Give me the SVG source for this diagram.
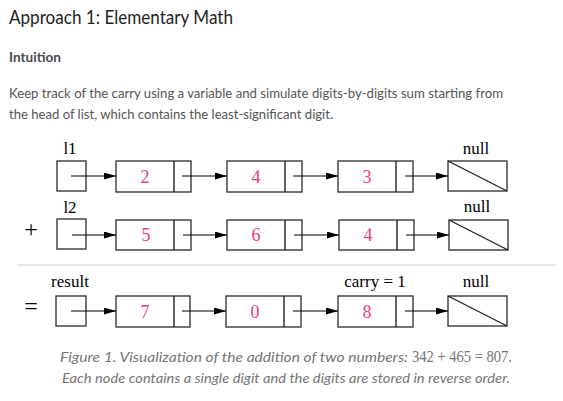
<svg xmlns="http://www.w3.org/2000/svg" width="563" height="401" viewBox="0 0 563 401">
<defs>
<style>
.bg{fill:#ffffff}
.title{font-family:Lato,"Open Sans","Liberation Sans",sans-serif;font-size:20px;fill:#1e1e1e}
.sub{font-family:Lato,"Open Sans","Liberation Sans",sans-serif;font-size:14px;font-weight:bold;fill:#4a4a4a}
.para{font-family:Lato,"Open Sans","Liberation Sans",sans-serif;font-size:14px;fill:#555555}
.cap{font-family:Lato,"Open Sans","Liberation Sans",sans-serif;font-size:13px;font-style:italic;fill:#757575}
.math{font-family:"Liberation Serif","DejaVu Serif",serif;font-size:16.5px;font-style:normal;fill:#757575}
.lbl{font-family:"Liberation Serif","DejaVu Serif",serif;font-size:17px;fill:#000000;text-anchor:middle}
.op{font-family:"Liberation Serif","DejaVu Serif",serif;font-size:24px;fill:#000000;text-anchor:middle}
.digit{font-family:"Liberation Serif","DejaVu Serif",serif;font-size:18px;fill:#ec407a;text-anchor:middle}
.box{fill:#ffffff;stroke:#3a3a3a;stroke-width:1.4}
.div{stroke:#222222;stroke-width:1.4}
.arrow{stroke:#000000;stroke-width:1.1;fill:none;marker-end:url(#ah)}
.sep{stroke:#d0d0d0;stroke-width:1.2}
</style>
<marker id="ah" markerWidth="12" markerHeight="7" refX="12" refY="3.5" orient="auto" markerUnits="userSpaceOnUse">
<path d="M0,0 L12,3.5 L0,7 Z" fill="#000000"/>
</marker>
</defs>
<rect class="bg" x="0" y="0" width="563" height="401"/>

<g id="header">
<text class="title" x="9" y="24" textLength="224" lengthAdjust="spacingAndGlyphs">Approach 1: Elementary Math</text>
<text class="sub" x="9" y="62" textLength="52" lengthAdjust="spacingAndGlyphs">Intuition</text>
<text class="para" x="9" y="98" textLength="494" lengthAdjust="spacingAndGlyphs">Keep track of the carry using a variable and simulate digits-by-digits sum starting from</text>
<text class="para" x="9" y="119" textLength="324" lengthAdjust="spacingAndGlyphs">the head of list, which contains the least-significant digit.</text>
</g>

<g id="labels">
<text class="lbl" x="70" y="154">l1</text>
<text class="lbl" x="476" y="154">null</text>
<text class="lbl" x="70" y="213">l2</text>
<text class="lbl" x="477" y="212">null</text>
<text class="lbl" x="70" y="287">result</text>
<text class="lbl" x="375" y="287">carry = 1</text>
<text class="lbl" x="476" y="287">null</text>
<text class="op" x="31" y="237">+</text>
<text class="op" x="31" y="314">=</text>
</g>

<line class="sep" x1="17" y1="265" x2="556" y2="265"/>

<g id="l1-head"><rect class="box" x="57" y="161" width="29" height="30"/></g>
<g id="l1-n2"><rect class="box" x="116" y="161" width="75" height="31"/><line class="div" x1="174" y1="161" x2="174" y2="192"/><text class="digit" x="145" y="183">2</text></g>
<g id="l1-n4"><rect class="box" x="227" y="161" width="75" height="31"/><line class="div" x1="285" y1="161" x2="285" y2="192"/><text class="digit" x="256" y="183">4</text></g>
<g id="l1-n3"><rect class="box" x="338" y="161" width="75" height="31"/><line class="div" x1="396" y1="161" x2="396" y2="192"/><text class="digit" x="367" y="183">3</text></g>
<g id="l1-null"><rect class="box" x="448" y="161" width="59" height="30"/><line class="div" x1="448" y1="161" x2="507" y2="191"/></g>

<g id="l2-head"><rect class="box" x="57" y="219" width="29" height="30"/></g>
<g id="l2-n5"><rect class="box" x="116" y="220" width="75" height="30"/><line class="div" x1="174" y1="220" x2="174" y2="250"/><text class="digit" x="146" y="241">5</text></g>
<g id="l2-n6"><rect class="box" x="227" y="220" width="75" height="30"/><line class="div" x1="285" y1="220" x2="285" y2="250"/><text class="digit" x="256" y="241">6</text></g>
<g id="l2-n4"><rect class="box" x="339" y="220" width="75" height="30"/><line class="div" x1="397" y1="220" x2="397" y2="250"/><text class="digit" x="368" y="241">4</text></g>
<g id="l2-null"><rect class="box" x="449" y="220" width="59" height="30"/><line class="div" x1="449" y1="220" x2="508" y2="250"/></g>

<g id="res-head"><rect class="box" x="56" y="296" width="30" height="30"/></g>
<g id="res-n7"><rect class="box" x="116" y="296" width="74" height="31"/><line class="div" x1="174" y1="296" x2="174" y2="327"/><text class="digit" x="145" y="318">7</text></g>
<g id="res-n0"><rect class="box" x="226" y="296" width="75" height="31"/><line class="div" x1="284" y1="296" x2="284" y2="327"/><text class="digit" x="255" y="318">0</text></g>
<g id="res-n8"><rect class="box" x="338" y="296" width="75" height="31"/><line class="div" x1="396" y1="296" x2="396" y2="327"/><text class="digit" x="367" y="318">8</text></g>
<g id="res-null"><rect class="box" x="448" y="296" width="59" height="30"/><line class="div" x1="448" y1="296" x2="507" y2="326"/></g>

<g id="connectors">
<line class="arrow" x1="71" y1="176" x2="116" y2="176"/>
<line class="arrow" x1="182" y1="176" x2="227" y2="176"/>
<line class="arrow" x1="293" y1="176" x2="338" y2="176"/>
<line class="arrow" x1="405" y1="176" x2="448" y2="176"/>
<line class="arrow" x1="72" y1="235" x2="116" y2="235"/>
<line class="arrow" x1="183" y1="235" x2="227" y2="235"/>
<line class="arrow" x1="294" y1="235" x2="339" y2="235"/>
<line class="arrow" x1="406" y1="235" x2="449" y2="235"/>
<line class="arrow" x1="71" y1="311" x2="116" y2="311"/>
<line class="arrow" x1="182" y1="311" x2="226" y2="311"/>
<line class="arrow" x1="293" y1="311" x2="338" y2="311"/>
<line class="arrow" x1="405" y1="311" x2="448" y2="311"/>
</g>

<g id="caption">
<text class="cap" x="60" y="362"><tspan textLength="348" lengthAdjust="spacingAndGlyphs">Figure 1. Visualization of the addition of two numbers:</tspan><tspan class="math" x="412" textLength="100" lengthAdjust="spacingAndGlyphs">342 + 465 = 807.</tspan></text>
<text class="cap" x="62" y="383" textLength="448" lengthAdjust="spacingAndGlyphs">Each node contains a single digit and the digits are stored in reverse order.</text>
</g>
</svg>
